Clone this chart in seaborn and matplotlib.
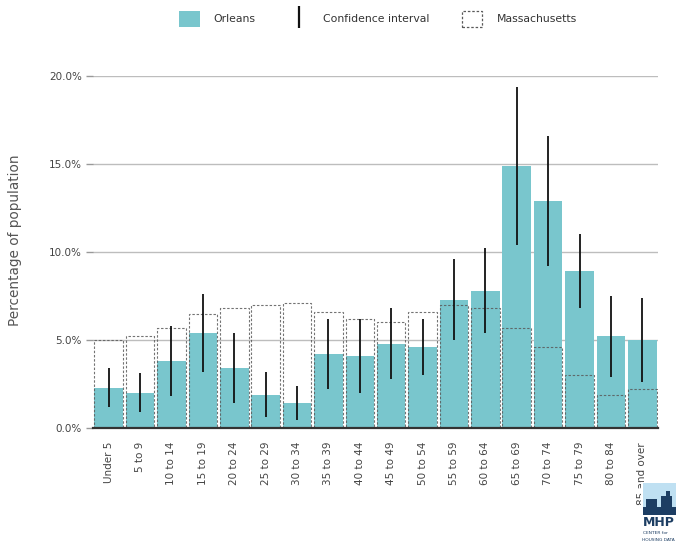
import matplotlib
matplotlib.use("Agg")
import matplotlib.pyplot as plt
from matplotlib.patches import Patch, Rectangle
from matplotlib.lines import Line2D
from matplotlib.ticker import PercentFormatter
import seaborn as sns
import pandas as pd

# Age distribution: Orleans vs. Massachusetts (percent of population)
age_groups = ["Under 5", "5 to 9", "10 to 14", "15 to 19", "20 to 24", "25 to 29",
              "30 to 34", "35 to 39", "40 to 44", "45 to 49", "50 to 54", "55 to 59",
              "60 to 64", "65 to 69", "70 to 74", "75 to 79", "80 to 84", "85 and over"]
orleans = [2.3, 2.0, 3.8, 5.4, 3.4, 1.9, 1.4, 4.2, 4.1, 4.8, 4.6, 7.3,
           7.8, 14.9, 12.9, 8.9, 5.2, 5.0]
ci_low = [1.2, 0.9, 1.8, 3.2, 1.4, 0.6, 0.45, 2.2, 2.0, 2.8, 3.0, 5.0,
          5.4, 10.4, 9.2, 6.8, 2.9, 2.6]
ci_high = [3.4, 3.1, 5.8, 7.6, 5.4, 3.2, 2.4, 6.2, 6.2, 6.8, 6.2, 9.6,
           10.2, 19.4, 16.6, 11.0, 7.5, 7.4]
massachusetts = [5.0, 5.2, 5.7, 6.5, 6.8, 7.0, 7.1, 6.6, 6.2, 6.0, 6.6, 7.0,
                 6.8, 5.7, 4.6, 3.0, 1.9, 2.2]

TEAL = "#79C6CD"
DASH = "#5A5A5A"
TEXT = "#444444"

df = pd.DataFrame({"age": age_groups, "orleans": orleans,
                   "ma": massachusetts, "lo": ci_low, "hi": ci_high})

sns.set_theme(style="white")
plt.rcParams["font.family"] = ["DejaVu Sans"]

fig = plt.figure(figsize=(6.81, 5.44), dpi=100)
ax = fig.add_axes([93 / 681, 1 - 428 / 544, (658 - 93) / 681, (428 - 76) / 544])

# Orleans bars
sns.barplot(data=df, x="age", y="orleans", color=TEAL, saturation=1,
            width=0.91, errorbar=None, ax=ax, zorder=2, linewidth=0)

# Massachusetts outlines (dashed, unfilled)
n_before = len(ax.patches)
sns.barplot(data=df, x="age", y="ma", color="white", saturation=1,
            width=0.91, errorbar=None, ax=ax, zorder=3)
for p in ax.patches[n_before:]:
    p.set_facecolor("none")
    p.set_edgecolor(DASH)
    p.set_linewidth(0.8)
    p.set_linestyle((0, (2.2, 1.6)))
    p.set_alpha(0.85)

# Confidence intervals
ax.vlines(range(len(age_groups)), df["lo"], df["hi"], color="#111111",
          linewidth=1.3, zorder=4)

ax.set_xlim(-0.5, len(age_groups) - 0.5)
ax.set_ylim(0, 20)
ax.set_yticks([0, 5, 10, 15, 20])
ax.yaxis.set_major_formatter(PercentFormatter(decimals=1))
ax.grid(axis="y", color="#BDBDBD", linewidth=1, zorder=0)
ax.grid(axis="x", visible=False)
ax.set_axisbelow(True)
for side in ["top", "right", "left"]:
    ax.spines[side].set_visible(False)
ax.spines["bottom"].set_color("#333333")
ax.spines["bottom"].set_linewidth(1.6)
ax.spines["bottom"].set_zorder(5)

ax.tick_params(axis="y", left=True, length=5, width=1, color="#999999",
               labelsize=7.5, labelcolor=TEXT, pad=3)
ax.tick_params(axis="x", bottom=False, labelsize=7.5, labelcolor=TEXT, pad=4)
plt.setp(ax.get_xticklabels(), rotation=90, va="top", ha="center")
ax.set_xlabel("")
ax.set_ylabel("")
fig.text(15 / 681, 1 - 240 / 544, "Percentage of population", rotation=90,
         ha="center", va="center", fontsize=9.8, color="#555555")

# Legend
handles = [
    Patch(facecolor=TEAL, edgecolor="none"),
    Line2D([], [], color="#111111", marker="|", linestyle="none",
           markersize=16, markeredgewidth=1.6),
    Patch(facecolor="white", edgecolor=DASH, linestyle=(0, (2, 1.5)), linewidth=0.9),
]
fig.legend(handles, ["Orleans", "Confidence interval", "Massachusetts"],
           loc="center", bbox_to_anchor=(378 / 681, 1 - 19 / 544), ncol=3,
           frameon=False, fontsize=7.8, handlelength=1.9, handleheight=1.9,
           columnspacing=3.0, handletextpad=1.3, labelcolor="#333333")

# Logo block
lax = fig.add_axes([641 / 681, 1 - 542 / 544, 36 / 681, 60 / 544], zorder=10)
lax.set_xlim(0, 1)
lax.set_ylim(0, 1)
lax.axis("off")
lax.add_patch(Rectangle((0, 0), 1, 1, facecolor="white", edgecolor="none"))
lax.add_patch(Rectangle((0.06, 0.45), 0.9, 0.53, facecolor="#BFE0F2", edgecolor="none"))
lax.add_patch(Rectangle((0.06, 0.45), 0.9, 0.14, facecolor="#1D3E63", edgecolor="none"))
lax.add_patch(Rectangle((0.14, 0.55), 0.3, 0.17, facecolor="#1D3E63", edgecolor="none"))
lax.add_patch(Rectangle((0.55, 0.55), 0.32, 0.22, facecolor="#1D3E63", edgecolor="none"))
lax.add_patch(Rectangle((0.7, 0.55), 0.1, 0.3, facecolor="#1D3E63", edgecolor="none"))
lax.text(0.5, 0.33, "MHP", ha="center", va="center", fontsize=9,
         fontweight="bold", color="#1D3E63")
lax.text(0.06, 0.15, "CENTER for", ha="left", va="center", fontsize=3.2, color="#1D3E63")
lax.text(0.02, 0.04, "HOUSING DATA", ha="left", va="center", fontsize=3.2, color="#1D3E63")

fig.savefig("out.png", dpi=100)
